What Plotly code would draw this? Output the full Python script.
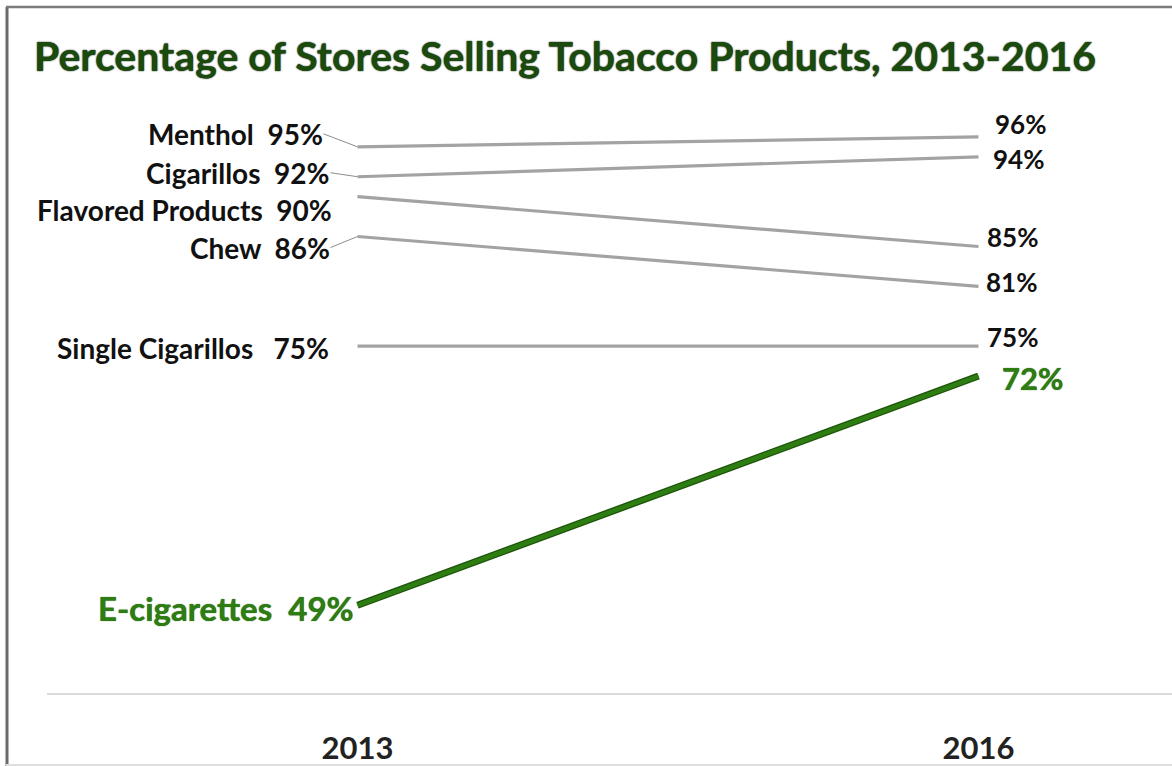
import plotly.graph_objects as go

years = ["2013", "2016"]
products = ["Menthol", "Cigarillos", "Flavored Products", "Chew", "Single Cigarillos", "E-cigarettes"]
v2013 = [95, 92, 90, 86, 75, 49]
v2016 = [96, 94, 85, 81, 75, 72]

GRAY = "#a3a3a3"
GREEN = "#2e7d12"
GREEN_DARK = "#1b5208"
FONT = "Lato"

xpos = [0, 1]
fig = go.Figure()

for i, name in enumerate(products):
    if name == "E-cigarettes":
        fig.add_trace(go.Scatter(x=xpos, y=[v2013[i], v2016[i]], mode="lines",
                                 line=dict(color=GREEN_DARK, width=7), hoverinfo="skip", showlegend=False))
        fig.add_trace(go.Scatter(x=xpos, y=[v2013[i], v2016[i]], mode="lines",
                                 line=dict(color=GREEN, width=4.5), name=name, showlegend=False))
    else:
        fig.add_trace(go.Scatter(x=xpos, y=[v2013[i], v2016[i]], mode="lines",
                                 line=dict(color=GRAY, width=3.2), name=name, showlegend=False))

# left label offsets (pixels): (dx, dy) of text right edge / center relative to point; arrow flag
left_cfg = {
    "Menthol": (-34, -13, True),
    "Cigarillos": (-27, -4, True),
    "Flavored Products": (-24, 13, False),
    "Chew": (-27, 11, True),
    "Single Cigarillos": (-27, 2, False),
    "E-cigarettes": (-2, 3, False),
}
right_cfg = {
    "Menthol": (14, -13),
    "Cigarillos": (12, 2),
    "Flavored Products": (6, -9),
    "Chew": (5, -4),
    "Single Cigarillos": (6, -9),
    "E-cigarettes": (21, 2),
}

for i, name in enumerate(products):
    green = name == "E-cigarettes"
    sep = "   " if name == "Single Cigarillos" else "  "
    txt = f"{name}{sep}{v2013[i]}%"
    fnt = dict(family=FONT, size=33 if green else 28, color=GREEN if green else "#111111",
               weight="bold")
    if green:
        fnt["shadow"] = "0px 0px 1px #1b4a08"
    dx, dy, arrow = left_cfg[name]
    if arrow:
        fig.add_annotation(x=0, y=v2013[i], xref="x", yref="y", text=txt, showarrow=True,
                           ax=dx, ay=dy, xanchor="right", yanchor="middle",
                           arrowhead=0, arrowwidth=1, arrowcolor="#8c8c8c", standoff=0,
                           font=fnt, borderpad=0)
    else:
        fig.add_annotation(x=0, y=v2013[i], xref="x", yref="y", text=txt, showarrow=False,
                           xanchor="right", yanchor="middle", xshift=dx, yshift=-dy, font=fnt)
    rdx, rdy = right_cfg[name]
    fnt2 = dict(fnt)
    fnt2["size"] = 31 if green else 26
    fig.add_annotation(x=1, y=v2016[i], xref="x", yref="y", text=f"{v2016[i]}%", showarrow=False,
                       xanchor="left", yanchor="middle", xshift=rdx, yshift=-rdy, font=fnt2)

L, R, T, B = 47, 0, 95, 73
W, H = 1172, 766
pw, ph = W - L - R, H - T - B

def px(x):
    return (x - L) / pw

def py(y):
    return (H - B - y) / ph

shapes = [
    dict(type="line", xref="paper", yref="paper", x0=px(7), x1=px(7), y0=py(7), y1=py(766),
         line=dict(color="#6a6a6a", width=3)),
    dict(type="line", xref="paper", yref="paper", x0=px(6), x1=px(1172), y0=py(7), y1=py(7),
         line=dict(color="#7a7a7a", width=2.5)),
    dict(type="line", xref="paper", yref="paper", x0=px(6), x1=px(1172), y0=py(765), y1=py(765),
         line=dict(color="#dedede", width=2)),
]

fig.update_layout(
    width=W, height=H,
    margin=dict(l=L, r=R, t=T, b=B),
    paper_bgcolor="white", plot_bgcolor="white",
    title=dict(text="Percentage of Stores Selling Tobacco Products, 2013-2016",
               x=565 / W, xanchor="center", y=1 - 57 / H, yanchor="middle",
               font=dict(family=FONT, size=41, color="#1a4a0c", weight="bold",
                         shadow="0px 0px 1.5px #000")),
    xaxis=dict(range=[-0.5, -0.5 + pw / 621], tickvals=xpos, ticktext=years,
               showgrid=False, zeroline=False, showline=True, linecolor="#d9d9d9", linewidth=2,
               ticks="", ticklabelstandoff=27,
               tickfont=dict(family=FONT, size=31, color="#222222", weight="bold")),
    yaxis=dict(range=[40.2, 100.2], visible=False, showgrid=False, zeroline=False),
    shapes=shapes,
    showlegend=False,
)

fig.write_html("out.html")
